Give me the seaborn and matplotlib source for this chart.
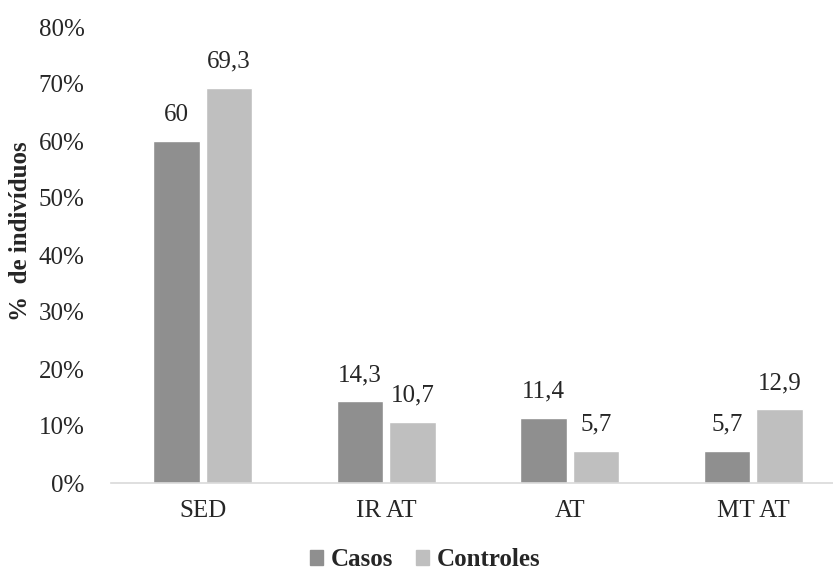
import pandas as pd
import matplotlib.pyplot as plt
import seaborn as sns

# data
categorias = ["SED", "IR AT", "AT", "MT AT"]
casos = [60, 14.3, 11.4, 5.7]
controles = [69.3, 10.7, 5.7, 12.9]
grupos = ["Casos", "Controles"]
cores = ["#8f8f8f", "#bfbfbf"]


def fmt_br(v):
    """Number with decimal comma, no trailing ,0"""
    if float(v).is_integer():
        return "%d" % v
    return ("%.1f" % v).replace(".", ",")


if __name__ == "__main__":
    sns.set_style("white")
    plt.rcParams["font.family"] = ["Liberation Serif", "DejaVu Serif"]
    fs = 18

    df = pd.DataFrame({
        "cat": categorias * 2,
        "grupo": [grupos[0]] * 4 + [grupos[1]] * 4,
        "valor": [v / 100 for v in casos + controles],
    })

    fig = plt.figure(figsize=(8.33, 5.74), dpi=100)
    ax = fig.add_axes([111 / 833, 91 / 574, (833 - 111) / 833, 456 / 574])
    sns.barplot(data=df, x="cat", y="valor", hue="grupo", palette=cores,
                order=categorias, hue_order=grupos, width=0.575, gap=0.12,
                ax=ax, errorbar=None, saturation=1, legend=False)

    # data labels
    for cont, vals in zip(ax.containers, [casos, controles]):
        ax.bar_label(cont, labels=[fmt_br(v) for v in vals], padding=11,
                     fontsize=fs)

    ax.set_ylim(0, 0.8)
    ax.set_xlim(-0.5, 3.5 - 12 / 183.5)
    ax.set_yticks([i / 10 for i in range(9)])
    ax.set_yticklabels(["%d%%" % (i * 10) for i in range(9)], fontsize=fs)
    ax.tick_params(axis="x", labelsize=fs, length=0, pad=12)
    ax.tick_params(axis="y", length=0, pad=19)
    ax.set_xlabel("")
    ax.set_ylabel("%  de indivíduos", fontsize=fs, fontweight="bold")
    ax.yaxis.set_label_coords(-0.109, 0.553)

    for s in ["top", "right", "left"]:
        ax.spines[s].set_visible(False)
    ax.spines["bottom"].set_color("#d9d9d9")
    ax.spines["bottom"].set_linewidth(1.2)

    # legend
    handles = [plt.Rectangle((0, 0), 1, 1, color=c) for c in cores]
    fig.legend(handles, grupos, loc="center", bbox_to_anchor=(425 / 833, 1 - 560 / 574),
               ncol=2, frameon=False, handlelength=0.55, handleheight=0.55,
               handletextpad=0.3, columnspacing=0.9, borderpad=0,
               prop={"weight": "bold", "size": fs})

    plt.savefig("out.png", dpi=100)
    plt.close()
